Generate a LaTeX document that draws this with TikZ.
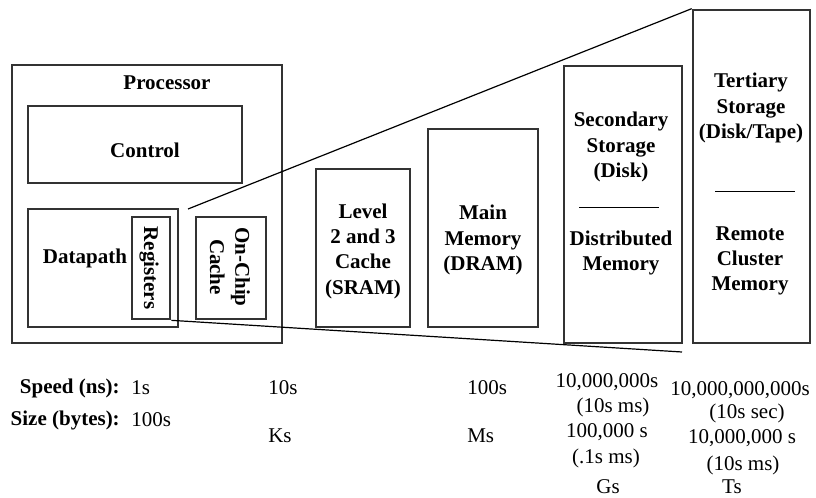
\documentclass[tikz,border=0pt]{standalone}
\usepackage{fontspec}
\setmainfont{Liberation Serif}
\begin{document}
\begin{tikzpicture}[
    x=0.75pt, y=-0.75pt,
    box/.style={
        draw=black!80,
        line width=2pt,
        inner sep=0pt
    },
    lbl/.style={
        font=\fontsize{15.75}{19}\selectfont\bfseries,
        align=center,
        inner sep=0pt
    },
    val/.style={font=\fontsize{15.75}{19}\selectfont, inner sep=0pt},
    hdr/.style={val, font=\fontsize{15.75}{19}\selectfont\bfseries, anchor=east},
    funnel/.style={draw=black, line width=0.9pt},
    sep/.style={draw=black, line width=0.75pt}
]
    \useasboundingbox (0,0) rectangle (816,498);

    \node[box, minimum width=202.5pt, minimum height=208.5pt] (proc) at (147,204) {};
    \node[box, minimum width=160.5pt, minimum height=57.75pt] (ctrl) at (135,144.5) {};
    \node[box, minimum width=112.5pt, minimum height=88.5pt] (dpath) at (103,268) {};
    \node[box, minimum width=28.5pt, minimum height=76.5pt] (regs) at (151,268) {};
    \node[box, minimum width=52.5pt, minimum height=76.5pt] (onchip) at (231,268) {};
    \node[box, minimum width=70.5pt, minimum height=118.5pt] (sram) at (363,248) {};
    \node[box, minimum width=82.5pt, minimum height=148.5pt] (dram) at (483,228) {};
    \node[box, minimum width=88.5pt, minimum height=207.75pt] (disk) at (623,204.5) {};
    \node[box, minimum width=87.75pt, minimum height=249.75pt] (tert) at (751.5,176.5) {};

    \node[lbl] (procl) at (167,83) {Processor};
    \node[lbl] (ctrll) at (145,150) {Control};
    \node[lbl] (dpathl) at (85,258) {Datapath};
    \node[lbl, rotate=-90] (regsl) at (149,268) {Registers};
    \node[lbl, rotate=-90] (onchipl) at (230,267) {On-Chip\\Cache};
    \node[lbl] (sraml) at (363,251) {Level\\2 and 3\\Cache\\(SRAM)};
    \node[lbl] (draml) at (483,240) {Main\\Memory\\(DRAM)};
    \node[lbl] (diskl) at (621,147) {Secondary\\Storage\\(Disk)};
    \node[lbl] (distl) at (621,253) {Distributed\\Memory};
    \node[lbl] (tertl) at (751,108) {Tertiary\\Storage\\(Disk/Tape)};
    \node[lbl] (remotel) at (750,261) {Remote\\Cluster\\Memory};

    \draw[sep] (579,208) -- (659,208);
    \draw[sep] (715,192) -- (795,192);

    \coordinate (ftop) at (188,209);
    \coordinate (fbot) at (682,352);
    \draw[funnel] (ftop) -- (tert.north west);
    \draw[funnel] (regs.south east) -- (fbot);

    \node[hdr] (speedh) at (120,388) {Speed (ns):};
    \node[hdr] (sizeh) at (120,420) {Size (bytes):};

    \node[val, anchor=west] (speed1) at (131,388) {1s};
    \node[val, anchor=west] (size1) at (131,420) {100s};
    \node[val, anchor=west] (speed2) at (268,388) {10s};
    \node[val, anchor=west] (size2) at (268,436) {Ks};
    \node[val, anchor=west] (speed3) at (467,388) {100s};
    \node[val, anchor=west] (size3) at (467,436) {Ms};

    \node[val] (speed4) at (607,382) {10,000,000s};
    \node[val] (speed4b) at (613,407) {(10s ms)};
    \node[val] (size4) at (607,432) {100,000 s};
    \node[val] (size4b) at (606,458) {(.1s ms)};
    \node[val] (size4c) at (608,487) {Gs};

    \node[val] (speed5) at (740,390) {10,000,000,000s};
    \node[val] (speed5b) at (747,413) {(10s sec)};
    \node[val] (size5) at (742,438) {10,000,000 s};
    \node[val] (size5b) at (743,465) {(10s ms)};
    \node[val] (size5c) at (732,487) {Ts};
\end{tikzpicture}
\end{document}
